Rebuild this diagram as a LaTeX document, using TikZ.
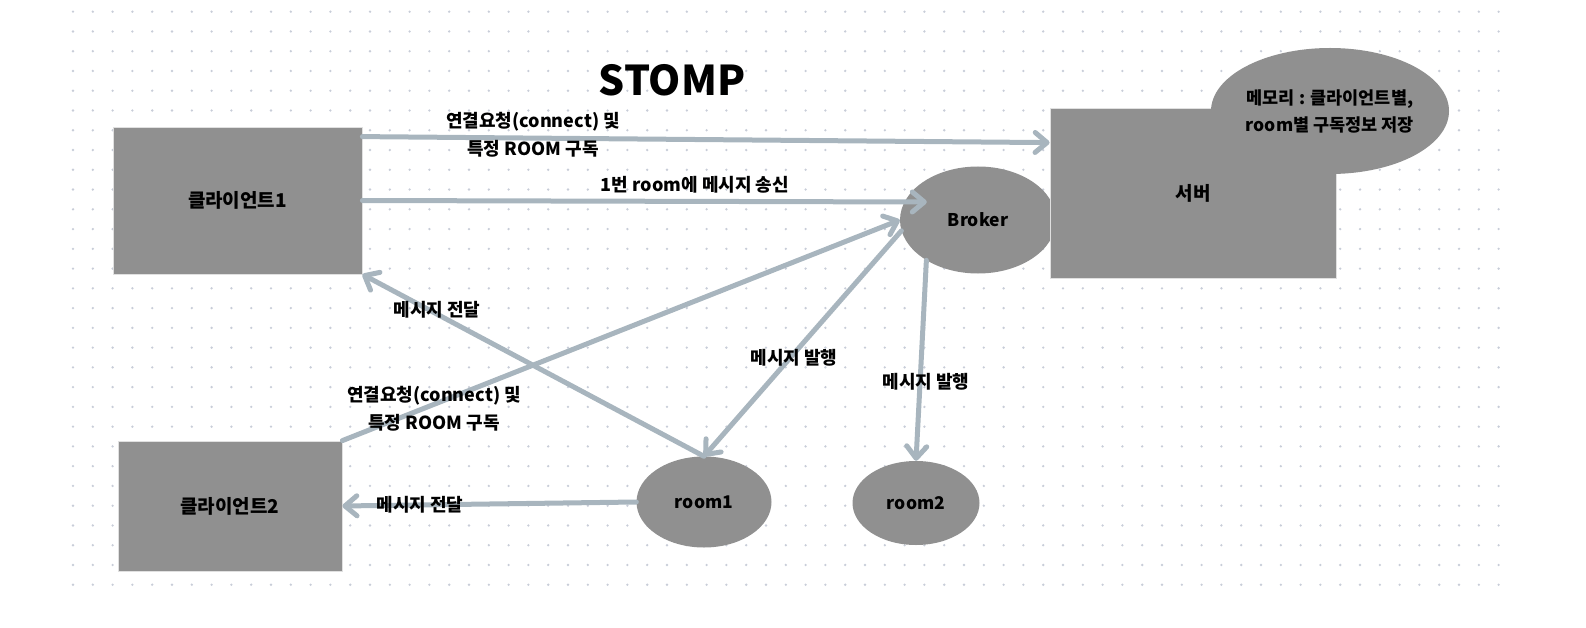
\documentclass[tikz,border=0pt]{standalone}
\usepackage{fontspec}
\setmainfont{Noto Sans CJK KR}
\usetikzlibrary{arrows.meta,shapes.geometric}
\definecolor{boxgray}{RGB}{144,144,144}
\definecolor{wire}{RGB}{168,181,190}
\definecolor{dotc}{RGB}{200,205,216}

\begin{document}
\begin{tikzpicture}[x=1pt,y=-1pt,
  box/.style={fill=boxgray,draw=black!12,line width=0.8pt,inner sep=0pt,font=\bfseries\fontsize{19}{22}\selectfont},
  blob/.style={ellipse,fill=boxgray,inner sep=0pt,font=\bfseries\fontsize{17.5}{27}\selectfont,align=center},
  txt/.style={font=\bfseries\fontsize{18}{28}\selectfont,align=center},
  wr/.style={draw=wire,line width=5pt,line cap=round,
    -{Straight Barb[length=12pt,width=20pt,line cap=round,line join=round]}}]
\useasboundingbox (0,0) rectangle (1586,628);
% ================= dotted paper =================
\foreach \i in {0,...,72}
  \foreach \j in {0,...,29}
    \fill[dotc] ({73+19.8*\i},{11.7+19.76*\j}) circle (1.3pt);
% ================= title =================
\node[font=\bfseries\fontsize{41}{41}\selectfont] (title) at (672,80) {STOMP};
% ================= clients =================
\node[box,minimum width=249pt,minimum height=147pt] (client1) at (237.5,200.5) {클라이언트1};
\node[box,minimum width=224pt,minimum height=130pt] (client2) at (230,506) {클라이언트2};
% ================= server side =================
\node[blob,minimum width=156pt,minimum height=107pt] (broker) at (978,220) {Broker};
\node[box,minimum width=286pt,minimum height=170pt] (server) at (1193,193) {서버};
\node[blob,minimum width=238pt,minimum height=126pt] (memory) at (1330,111)
  {메모리 : 클라이언트별,\\room별 구독정보 저장};
% ================= rooms =================
\node[blob,minimum width=135pt,minimum height=91pt] (room1) at (704,502) {room1};
\node[blob,minimum width=127pt,minimum height=84pt] (room2) at (916,503) {room2};
% ================= connectors =================
\draw[wr] ([yshift=-10pt]client1.north east) -- ([yshift=-35pt]server.north west);
\draw[wr] (client1.east) -- ([shift={(27pt,18pt)}]broker.west);
\draw[wr] (client2.north east) -- (broker.west);
\draw[wr] (room1.north) -- (client1.south east);
\draw[wr] (broker.188) -- (room1.north);
\draw[wr] (broker.218) -- (room2.north);
\draw[wr] (room1.west) -- (client2.east);
% ================= labels =================
\node[txt] (lconnA) at (533,135) {연결요청(connect) 및\\특정 ROOM 구독};
\node[txt] (lsend) at (695,185) {1번 room에 메시지 송신};
\node[txt] (lpassA) at (437,310) {메시지 전달};
\node[txt] (lconnB) at (434,409) {연결요청(connect) 및\\특정 ROOM 구독};
\node[txt] (lpubA) at (794,358) {메시지 발행};
\node[txt] (lpubB) at (926,382) {메시지 발행};
\node[txt] (lpassB) at (420,505) {메시지 전달};
\end{tikzpicture}
\end{document}
